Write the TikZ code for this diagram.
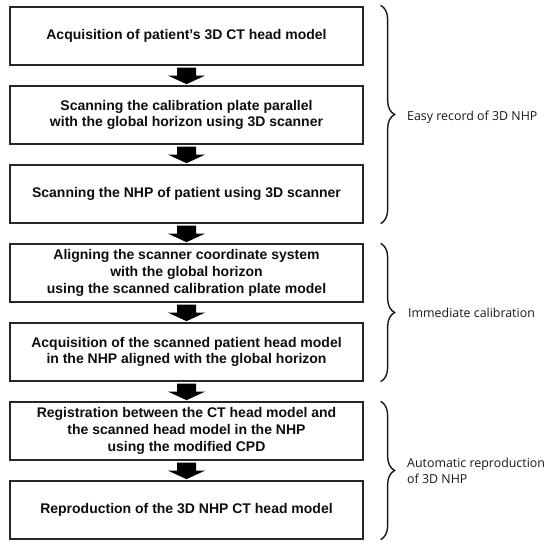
\documentclass[tikz,border=0pt]{standalone}
\usepackage{fontspec}
\setmainfont{Liberation Sans}
\newfontfamily\lblfont{Open Sans}
\usetikzlibrary{decorations.pathreplacing,calc}
\begin{document}
\begin{tikzpicture}[x=1pt,y=-1pt,
  box/.style={draw=black!85, line width=1.3pt, minimum width=353pt, minimum height=58pt,
    align=center, inner sep=0pt, font=\fontsize{14}{16.8}\selectfont\bfseries, text=black!95},
  blockarr/.style={fill=black},
  bracestyle/.style={draw=black!90, line width=1.4pt, decorate,
    decoration={brace, amplitude=14pt, aspect=0.5}},
  lbl/.style={anchor=west, align=left, inner sep=0pt, font=\lblfont\fontsize{12.4}{16}\selectfont, text=black!90}]
\useasboundingbox (0,0) rectangle (550,546);
\node[box] (b1) at (186.5,36) {Acquisition of patient's 3D CT head model};
\node[box] (b2) at (186.5,115) {Scanning the calibration plate parallel\\with the global horizon using 3D scanner};
\node[box] (b3) at (186.5,194) {Scanning the NHP of patient using 3D scanner};
\node[box] (b4) at (186.5,273) {Aligning the scanner coordinate system\\with the global horizon\\using the scanned calibration plate model};
\node[box] (b5) at (186.5,352) {Acquisition of the scanned patient head model\\in the NHP aligned with the global horizon};
\node[box] (b6) at (186.5,431) {Registration between the CT head model and\\the scanned head model in the NHP\\using the modified CPD};
\node[box] (b7) at (186.5,510) {Reproduction of the 3D NHP CT head model};
\foreach \i in {1,...,6}{
  \fill[blockarr] (b\i.south) ++(-9.5,2) -- ++(19,0) -- ++(0,8) -- ++(9,0) -- ++(-18.5,8.5) -- ++(-18.5,-8.5) -- ++(9,0) -- cycle;
}
\draw[bracestyle] ([xshift=17pt,yshift=1pt]b1.north east) -- ([xshift=17pt]b3.south east);
\draw[bracestyle] ([xshift=17pt]b4.north east) -- ([xshift=17pt]b5.south east);
\draw[bracestyle] ([xshift=17pt]b6.north east) -- ([xshift=17pt]b7.south east);
\node[lbl] (l1) at (407,117) {Easy record of 3D NHP};
\node[lbl] (l2) at (408,313) {Immediate calibration};
\node[lbl] (l3) at (407,471) {Automatic reproduction\\of 3D NHP};
\end{tikzpicture}
\end{document}
